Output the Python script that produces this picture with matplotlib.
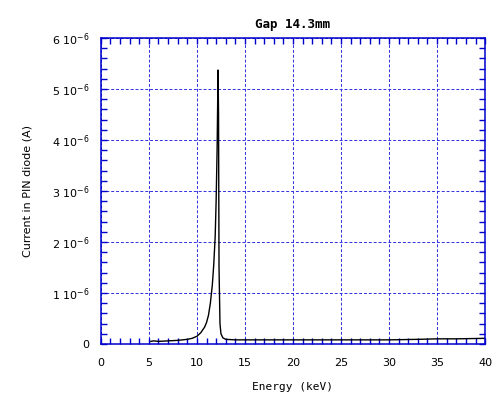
import matplotlib.pyplot as plt
import numpy as np
from matplotlib.ticker import MultipleLocator, FixedLocator

# Energy (keV) and PIN diode current (A)
energy = [5.2, 5.5, 6.0, 7.0, 8.0, 8.5, 9.0, 9.5, 10.0, 10.4, 10.8, 11.0,
          11.2, 11.4, 11.6, 11.75, 11.9, 12.0, 12.1, 12.2, 12.25, 12.3,
          12.4, 12.5, 12.7, 13.0, 14.0, 16.0, 20.0, 25.0, 30.0, 33.0,
          35.0, 37.0, 40.0]
current = [0.05e-6, 0.06e-6, 0.05e-6, 0.06e-6, 0.07e-6, 0.08e-6, 0.09e-6,
           0.11e-6, 0.15e-6, 0.22e-6, 0.33e-6, 0.42e-6, 0.56e-6, 0.80e-6,
           1.15e-6, 1.55e-6, 2.1e-6, 2.8e-6, 3.8e-6, 5.37e-6, 4.5e-6,
           1.5e-6, 0.4e-6, 0.2e-6, 0.12e-6, 0.09e-6, 0.08e-6, 0.08e-6,
           0.08e-6, 0.08e-6, 0.08e-6, 0.09e-6, 0.10e-6, 0.10e-6, 0.11e-6]

y_ticks = [0, 1e-6, 2e-6, 3e-6, 4e-6, 5e-6, 6e-6]
y_labels = ['0'] + ['%d 10$^{-6}$' % i for i in range(1, 7)]
x_ticks = [0, 5, 10, 15, 20, 25, 30, 35, 40]

fig = plt.figure(figsize=(4.92, 3.99), dpi=100)
ax = fig.add_axes([0.205, 0.138, 0.781, 0.767])

ax.plot(energy, current, color='black', lw=1.0)

ax.set_xlim(0, 40)
ax.set_ylim(0, 6e-6)
ax.xaxis.set_major_locator(FixedLocator(x_ticks))
ax.xaxis.set_minor_locator(MultipleLocator(1))
ax.set_yticks(y_ticks)
ax.set_yticklabels(y_labels)
ax.yaxis.set_minor_locator(MultipleLocator(0.2e-6))

ax.grid(True, which='major', color='#3030e0', linestyle=(0, (3, 2)), lw=0.7)
ax.tick_params(which='both', direction='in', color='#0000cc', top=True,
               right=True, labelsize=8, length=4, width=1)
ax.tick_params(axis='x', which='major', pad=10)
ax.tick_params(axis='y', which='major', pad=8)
for s in ax.spines.values():
    s.set_color('#0000cc')
    s.set_linewidth(1.1)

ax.set_xlabel('Energy (keV)', fontsize=8, family='DejaVu Sans Mono', labelpad=10)
ax.set_ylabel('Current in PIN diode (A)', fontsize=8, labelpad=14)
ax.set_title('Gap 14.3mm', fontsize=9, fontweight='bold',
             family='DejaVu Sans Mono', pad=7)

fig.savefig('out.png', dpi=100)
